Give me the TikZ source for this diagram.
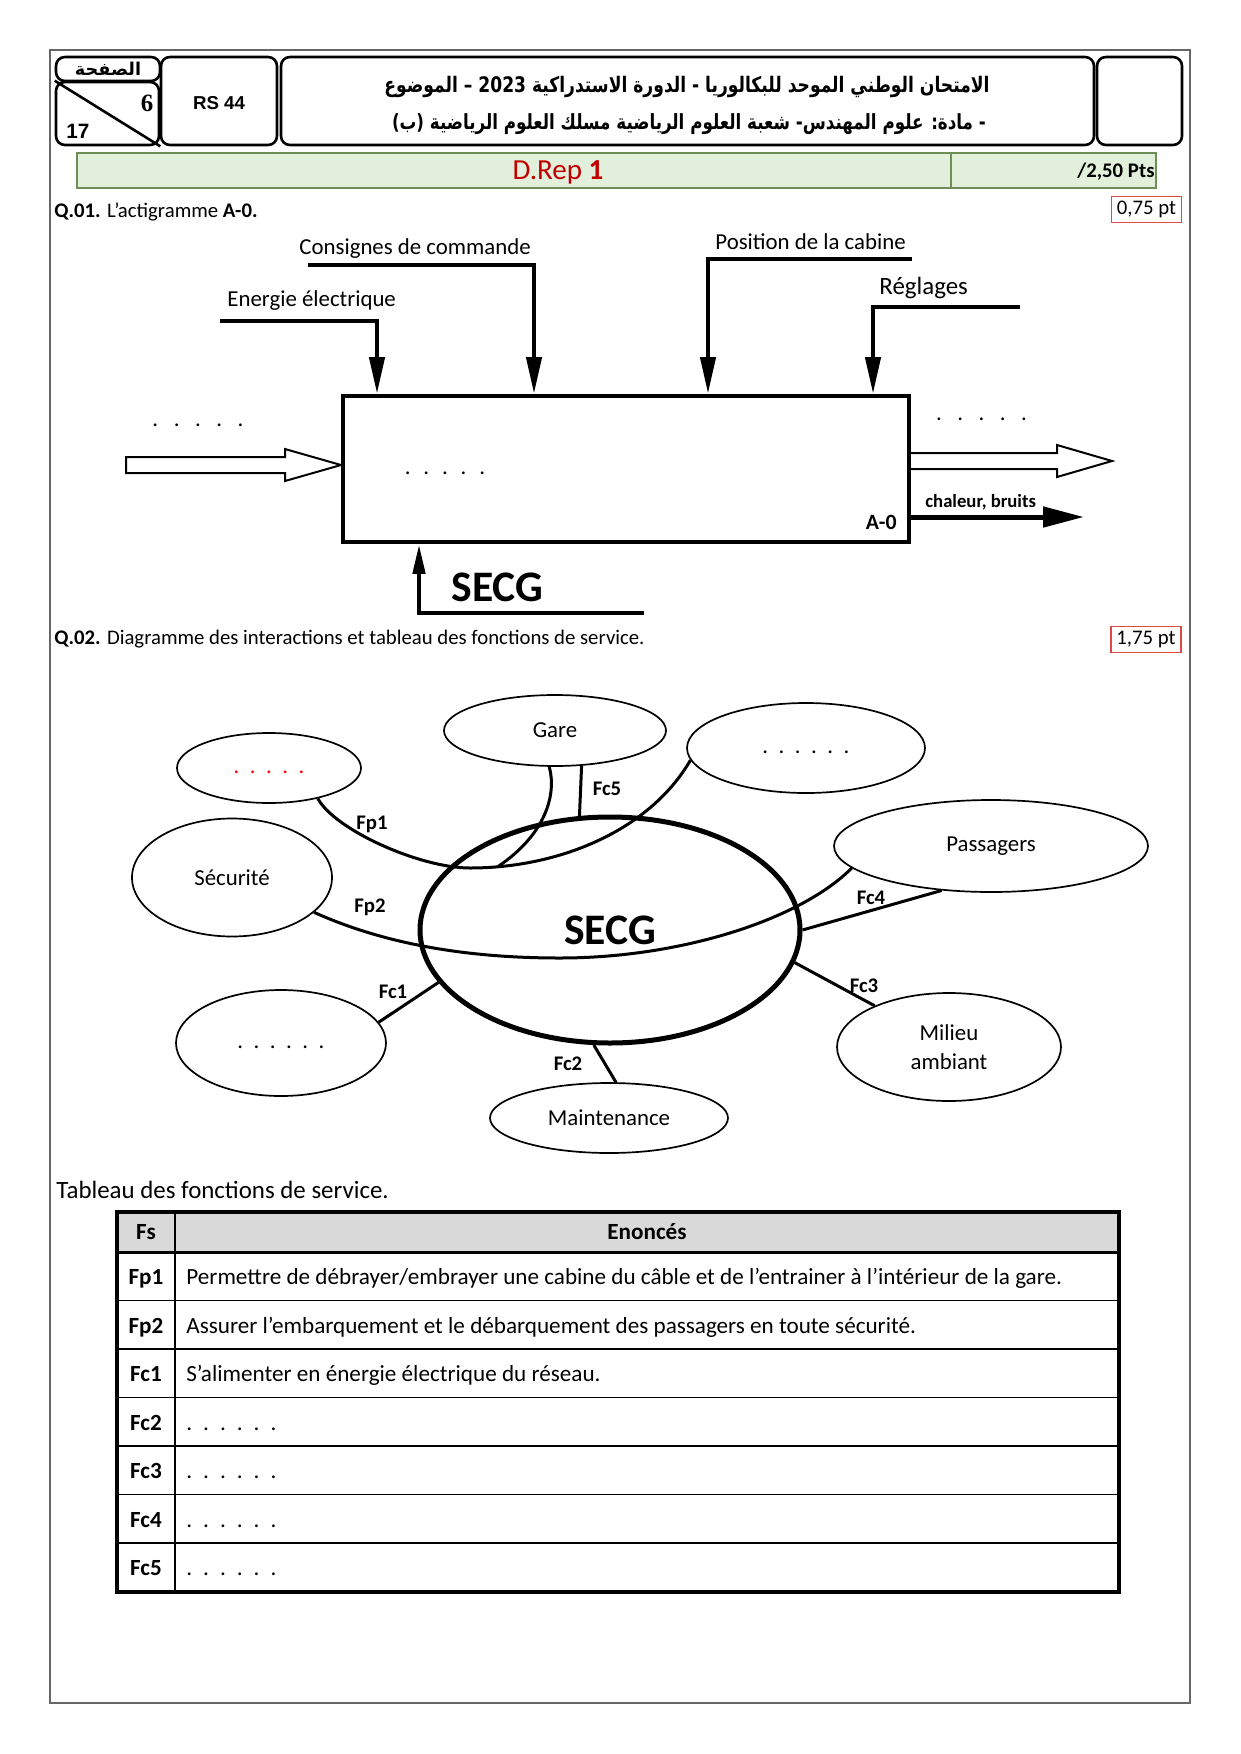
\documentclass[tikz,border=0pt]{standalone}
\usepackage{graphicx}
\usepackage{fontspec}
\setmainfont{Carlito}
\newfontfamily\arabicfont[Script=Arabic]{DejaVu Sans}
\newfontfamily\arialfont{Liberation Sans}
\newfontfamily\serifbold{Liberation Serif}
\TeXXeTstate=1
\usetikzlibrary{shapes.geometric,arrows.meta}
\newlength\px
\setlength\px{0.0169355cm}
\definecolor{barfill}{HTML}{E2EFDA}
\definecolor{barline}{HTML}{6E8E58}
\definecolor{repred}{HTML}{C00000}
\definecolor{ptred}{HTML}{E04848}
\definecolor{hdrgray}{HTML}{D9D9D9}
\newcommand\fsz[2]{\fontsize{#1}{#2}\selectfont}
\newcommand\dotrow[2]{.\foreach \k in {2,...,#1}{\hskip#2\relax.}}
\begin{document}
\begin{tikzpicture}[x=\px,y=-\px,
  txt/.style={inner sep=0pt, font=\fsz{11}{13}},
  hdrbox/.style={draw, line width=2.6\px, rounded corners=4.3pt},
  ell/.style={ellipse, draw, line width=1.7\px, inner sep=0pt, font=\fsz{11}{14}},
  link/.style={line width=3\px},
  flab/.style={inner sep=0pt, font=\fsz{10}{12}\bfseries},
  actline/.style={line width=4.5\px},
  vtip/.style={-{Triangle[length=17.8pt,width=7.2pt]}},
  ptbox/.style={draw=ptred, line width=1.3\px, minimum width=70\px, minimum height=26\px, inner sep=0pt, font=\fsz{10}{12}},
  tabtxt/.style={inner sep=0pt, anchor=base west, font=\fsz{11.15}{13}},
  tablab/.style={inner sep=0pt, anchor=base, font=\fsz{11.15}{13}\bfseries}
]
\fill[white] (0,0) rectangle (1240,1754);
\useasboundingbox (0,0) rectangle (1240,1754);

% outer frame
\draw[line width=1.2\px, black!60] (50,50) rectangle (1190,1703);

% ---------- header ----------
\node[hdrbox, minimum width=104\px, minimum height=24\px, inner sep=0pt] (pgbox) at (108,69)
  {\arabicfont\bfseries\fsz{8.5}{10}\beginR الصفحة\endR};
\node[hdrbox, minimum width=103\px, minimum height=63\px] (numbox) at (107.5,113.5) {};
\draw[line width=2.6\px] (numbox.north west) -- (numbox.south east);
\node[inner sep=0pt, font=\serifbold\bfseries\fsz{12}{13}] (pgnum) at (147,103) {6};
\node[inner sep=0pt, font=\arialfont\bfseries\fsz{10}{12}] (pgtot) at (78,131) {17};
\node[hdrbox, minimum width=116\px, minimum height=88\px] (rsbox) at (219,101) {};
\node[inner sep=0pt, font=\arialfont\bfseries\fsz{9}{11}] (rstxt) at (219,103) {RS 44};
\node[hdrbox, minimum width=813\px, minimum height=88\px] (titlebox) at (687.5,101) {};
\node[hdrbox, minimum width=85\px, minimum height=88\px] (blankbox) at (1139.5,101) {};
\node[inner sep=0pt] (title1) at (687,87)
  {\scalebox{1}[1.25]{\resizebox{605\px}{!}{\arabicfont\bfseries\fsz{11}{13}\beginR الامتحان الوطني الموحد للبكالوريا - الدورة الاستدراكية \beginL2023\endL{} – الموضوع\endR}}};
\node[inner sep=0pt] (title2) at (689,124)
  {\scalebox{1}[1.25]{\resizebox{594\px}{!}{\arabicfont\bfseries\fsz{11}{13}\beginR - مادة: علوم المهندس- شعبة العلوم الرياضية مسلك العلوم الرياضية (ب)\endR}}};

% green bar
\node[draw=barline, fill=barfill, line width=2\px, minimum width=874\px, minimum height=35\px] (repbar) at (514,170.5) {};
\node[draw=barline, fill=barfill, line width=2\px, minimum width=205\px, minimum height=35\px] (ptsbar) at (1053.5,170.5) {};
\node[inner sep=0pt, font=\fsz{14}{16}, text=repred] (reptxt) at (558,172) {D.Rep \textbf{1}};
\node[inner sep=0pt, anchor=east, font=\fsz{10}{12}\bfseries] (ptstxt) at (1155,172) {/2,50 Pts};

% ---------- Q.01 ----------
\node[inner sep=0pt, anchor=west, font=\fsz{10}{12}] (q1) at (54,212) {\textbf{Q.01.} L’actigramme \textbf{A-0.}};
\node[ptbox] (pt1) at (1146.5,209.5) {0,75 pt};

\node[draw, line width=4\px, minimum width=566\px, minimum height=146\px] (a0) at (626,469) {};

% control inputs
\coordinate (eeStart) at (220,321); \coordinate (eeTurn) at (377,321);
\coordinate (ccStart) at (308,265); \coordinate (ccTurn) at (534,265);
\coordinate (pcStart) at (912,259); \coordinate (pcTurn) at (708,259);
\coordinate (rgStart) at (1020,307); \coordinate (rgTurn) at (873,307);
\draw[actline, vtip] (eeStart) -- (eeTurn) -- (eeTurn |- a0.north);
\draw[actline, vtip] (ccStart) -- (ccTurn) -- (ccTurn |- a0.north);
\draw[actline, vtip] (pcStart) -- (pcTurn) -- (pcTurn |- a0.north);
\draw[actline, vtip] (rgStart) -- (rgTurn) -- (rgTurn |- a0.north);
\node[txt, anchor=west] (eeLab) at (227,301) {Energie électrique};
\node[txt, anchor=west] (ccLab) at (299,249) {Consignes de commande};
\node[txt, anchor=west] (pcLab) at (715,242) {Position de la cabine};
\node[txt, anchor=west, font=\fsz{12}{14}] (rgLab) at (879,288) {Réglages};

% mechanism
\coordinate (mcStart) at (644,613); \coordinate (mcTurn) at (419,613);
\draw[actline, -{Triangle[length=14.4pt,width=5.8pt]}] (mcStart) -- (mcTurn) -- (mcTurn |- a0.south);
\node[inner sep=0pt, anchor=west, font=\fsz{21}{24}\bfseries] (mcLab) at (451,587) {SECG};

% hollow arrows
\draw[line width=2\px] (126,457) -- (285,457) -- (285,449) -- (a0.west |- 0,465) -- (285,481) -- (285,473) -- (126,473) -- cycle;
\draw[line width=2\px] (a0.east |- 0,453) -- (1057,453) -- (1057,445) -- (1112,461) -- (1057,477) -- (1057,469) -- (a0.east |- 0,469);
\coordinate (chEnd) at (1084,517);
\draw[line width=5\px, -{Triangle[length=19.7pt,width=9.6pt]}] (a0.east |- chEnd) -- (chEnd);
\node[inner sep=0pt, anchor=west, font=\fsz{9}{11}\bfseries] (chLab) at (925,502) {chaleur, bruits};
\node[inner sep=0pt, anchor=east, font=\fsz{10.5}{12}\bfseries] (a0Lab) at (897,522) {A-0};

\node[txt] (dotsIn) at (198,425) {\dotrow{5}{7.5pt}};
\node[txt] (dotsBox) at (445,473) {\dotrow{5}{6.2pt}};
\node[txt] (dotsOut) at (981.5,419) {\dotrow{5}{7.45pt}};

% ---------- Q.02 ----------
\node[inner sep=0pt, anchor=west, font=\fsz{10}{12}] (q2) at (54,639) {\textbf{Q.02.} Diagramme des interactions et tableau des fonctions de service.};
\node[ptbox] (pt2) at (1146,639.5) {1,75 pt};

% ellipses
\node[ell, minimum width=184\px, minimum height=70\px, text=red] (red) at (269,768) {\strut\dotrow{5}{5.06pt}};
\node[ell, minimum width=222\px, minimum height=71\px] (gare) at (555,730.5) {Gare};
\node[ell, minimum width=238\px, minimum height=90\px] (topr) at (806,748) {\strut\dotrow{6}{5.06pt}};
\node[ell, minimum width=200\px, minimum height=118\px] (secu) at (232,877.5) {Sécurité};
\node[ell, minimum width=314\px, minimum height=92\px] (pass) at (991,846) {Passagers};
\node[ell, minimum width=380\px, minimum height=226\px, line width=5\px, font=\fsz{21}{24}\bfseries] (secg) at (610,930) {SECG};
\node[ell, minimum width=210\px, minimum height=106\px] (bl) at (281,1043) {\strut\dotrow{6}{5.06pt}};
\node[ell, minimum width=238\px, minimum height=70\px] (maint) at (609,1118) {Maintenance};
\node[ell, minimum width=224\px, minimum height=108\px, align=center] (mil) at (949,1047) {Milieu\\ambiant};

% links
\coordinate (fpmid) at (470,868);
\coordinate (fpjoin) at (498,866.5);
\coordinate (fp2mid) at (560,958);
\draw[link] (red.328.3) .. controls (335,830) and (420,868) .. (fpmid)
  .. controls (560,868) and (650,830) .. (topr.186);
\draw[link] (gare.261.5) .. controls (557,795) and (545,835) .. (fpjoin);
\draw[link] (secu.-23.8) .. controls (380,942) and (460,958) .. (fp2mid)
  .. controls (680,958) and (800,920) .. (pass.189.4);
\draw[link] (gare.307.3) -- (secg.105.5);
\draw[link] (secg.0) -- (pass.222.5);
\draw[link] (secg.-10.8) -- (mil.151.9);
\draw[link] (secg.262) -- (maint.79);
\draw[link] (secg.197.7) -- (bl.12.3);

\node[flab] (lFp1) at (372,824) {Fp1};
\node[flab] (lFc5) at (607,789) {Fc5};
\node[flab] (lFp2) at (370,907) {Fp2};
\node[flab] (lFc4) at (871,898) {Fc4};
\node[flab] (lFc3) at (864,986) {Fc3};
\node[flab] (lFc2) at (568,1064) {Fc2};
\node[flab] (lFc1) at (393,992) {Fc1};

% ---------- table ----------
\node[inner sep=0pt, anchor=west, font=\fsz{12}{14}] (tabtitle) at (56,1190) {Tableau des fonctions de service.};
\fill[hdrgray] (117,1212) rectangle (1119,1252);
\foreach \yy in {1300.5,1349,1397.5,1446,1494.5,1543}
  \draw[line width=1.3\px] (117,\yy) -- (1119,\yy);
\draw[line width=3\px] (117,1252) -- (1119,1252);
\draw[line width=2.5\px] (175,1212) -- (175,1592);
\draw[line width=3.5\px] (117,1212) rectangle (1119,1592);

\node[tablab] (hFs) at (146,1239.5) {Fs};
\node[tablab] (hEn) at (647,1239.5) {Enoncés};
\node[tablab] (l1) at (146,1284.5) {Fp1};
\node[tablab] (l2) at (146,1333) {Fp2};
\node[tablab] (l3) at (146,1381.5) {Fc1};
\node[tablab] (l4) at (146,1430) {Fc2};
\node[tablab] (l5) at (146,1478.5) {Fc3};
\node[tablab] (l6) at (146,1527) {Fc4};
\node[tablab] (l7) at (146,1575.5) {Fc5};
\node[tabtxt] (s1) at (186,1284.5) {Permettre de débrayer/embrayer une cabine du câble et de l’entrainer à l’intérieur de la gare.};
\node[tabtxt] (s2) at (186,1333) {Assurer l’embarquement et le débarquement des passagers en toute sécurité.};
\node[tabtxt] (s3) at (186,1381.5) {S’alimenter en énergie électrique du réseau.};
\node[tabtxt] (s4) at (186,1430) {\dotrow{6}{5.3pt}};
\node[tabtxt] (s5) at (186,1478.5) {\dotrow{6}{5.3pt}};
\node[tabtxt] (s6) at (186,1527) {\dotrow{6}{5.3pt}};
\node[tabtxt] (s7) at (186,1575.5) {\dotrow{6}{5.3pt}};
\end{tikzpicture}
\end{document}
